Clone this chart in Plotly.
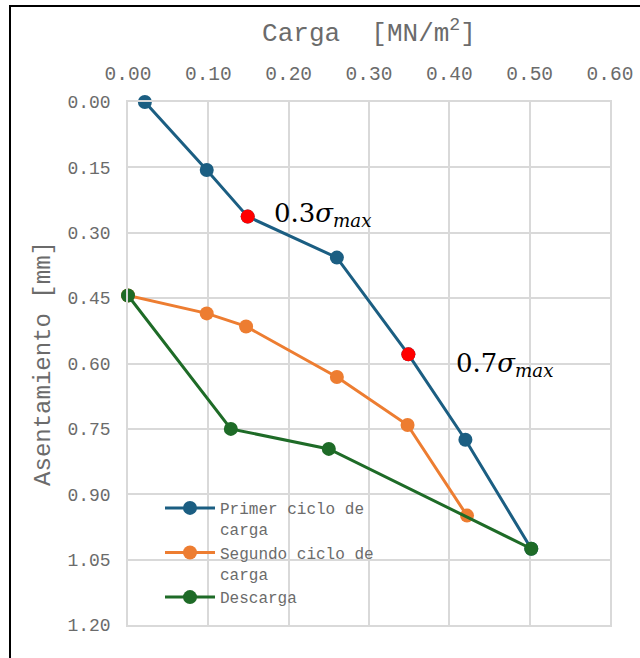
import plotly.graph_objects as go

# Data
carga_primer = [0.021, 0.098, 0.149, 0.260, 0.349, 0.420, 0.502]
asent_primer = [0.000, 0.156, 0.263, 0.357, 0.579, 0.775, 1.025]

carga_segundo = [0.000, 0.098, 0.147, 0.260, 0.348, 0.422]
asent_segundo = [0.444, 0.485, 0.515, 0.631, 0.741, 0.949]

carga_descarga = [0.000, 0.128, 0.250, 0.502]
asent_descarga = [0.444, 0.750, 0.796, 1.025]

sigma_idx = [2, 4]
sigma_labels = ["0.3", "0.7"]

x_ticks = [0.0, 0.1, 0.2, 0.3, 0.4, 0.5, 0.6]
y_ticks = [0.0, 0.15, 0.30, 0.45, 0.60, 0.75, 0.90, 1.05, 1.20]

BLUE = "#1b5e82"
ORANGE = "#ED7D31"
GREEN = "#1e6b27"
RED = "#FF0000"
GRID = "#d9d9d9"
TXT = "#6b6b6b"
MONO = "Liberation Mono, Courier New, monospace"

fig = go.Figure()

fig.add_trace(go.Scatter(
    x=carga_primer, y=asent_primer, mode="lines+markers",
    name="Primer ciclo de<br>carga",
    line=dict(color=BLUE, width=3), marker=dict(color=BLUE, size=14),
    cliponaxis=False))
fig.add_trace(go.Scatter(
    x=carga_segundo, y=asent_segundo, mode="lines+markers",
    name="Segundo ciclo de<br>carga",
    line=dict(color=ORANGE, width=3), marker=dict(color=ORANGE, size=14),
    cliponaxis=False))
fig.add_trace(go.Scatter(
    x=carga_descarga, y=asent_descarga, mode="lines+markers",
    name="Descarga",
    line=dict(color=GREEN, width=3), marker=dict(color=GREEN, size=14),
    cliponaxis=False))

sx = [carga_primer[i] for i in sigma_idx]
sy = [asent_primer[i] for i in sigma_idx]
fig.add_trace(go.Scatter(
    x=sx, y=sy, mode="markers", showlegend=False,
    marker=dict(color=RED, size=14), cliponaxis=False))

shifts = [(24, 2), (46, -10)]
for (x, y), lab, (dx, dy) in zip(zip(sx, sy), sigma_labels, shifts):
    fig.add_annotation(
        x=x, y=y, xref="x", yref="y", showarrow=False,
        text=f"{lab}<i>σ<sub>max</sub></i>",
        xanchor="left", yanchor="middle", xshift=dx, yshift=dy,
        font=dict(family="DejaVu Serif, Liberation Serif, serif", size=26, color="#000000"))

W, H = 640, 658
ML, MR, MT, MB = 128, 30, 102, 33
pw, ph = W - ML - MR, H - MT - MB

# outer frame (extends beyond the right/bottom of the view)
fig.add_shape(type="rect", xref="paper", yref="paper",
              x0=(10 - ML) / pw, x1=(660 - ML) / pw,
              y0=(H - 680 - MB) / ph, y1=(H - 6 - MB) / ph,
              line=dict(color="#000000", width=2), layer="above")

fig.update_layout(
    width=W, height=H,
    margin=dict(l=ML, r=MR, t=MT, b=MB, autoexpand=False),
    paper_bgcolor="white", plot_bgcolor="white",
    font=dict(family=MONO, color=TXT),
    xaxis=dict(
        side="top", range=[0, 0.6], tickvals=x_ticks, tickformat=".2f",
        showgrid=True, gridcolor=GRID, gridwidth=1.5, automargin=False,
        showline=True, linecolor=GRID, linewidth=1.5, mirror=True,
        zeroline=False, ticks="", ticklabelstandoff=12,
        tickfont=dict(family=MONO, size=19.5, color=TXT),
        title=dict(text="Carga\u00a0\u00a0[MN/m<sup>2</sup>]", standoff=15,
                   font=dict(family=MONO, size=26, color=TXT)),
    ),
    yaxis=dict(
        range=[1.2, 0], tickvals=y_ticks, tickformat=".2f",
        showgrid=True, gridcolor=GRID, gridwidth=1.5, automargin=False,
        showline=True, linecolor=GRID, linewidth=1.5, mirror=True,
        zeroline=False, ticks="", ticklabelstandoff=12,
        tickfont=dict(family=MONO, size=18, color=TXT),
        title=dict(text="Asentamiento [mm]", standoff=10,
                   font=dict(family=MONO, size=24, color=TXT)),
    ),
    legend=dict(
        x=(160 - ML) / pw, y=(H - 491 - MB) / ph, xanchor="left", yanchor="top",
        bgcolor="rgba(0,0,0,0)", valign="top", itemwidth=50,
        font=dict(family=MONO, size=16, color=TXT),
        tracegroupgap=0,
    ),
)

fig.write_html("out.html", config={"displayModeBar": False},
               post_script="document.body.style.margin='0';document.body.style.overflow='hidden';")
